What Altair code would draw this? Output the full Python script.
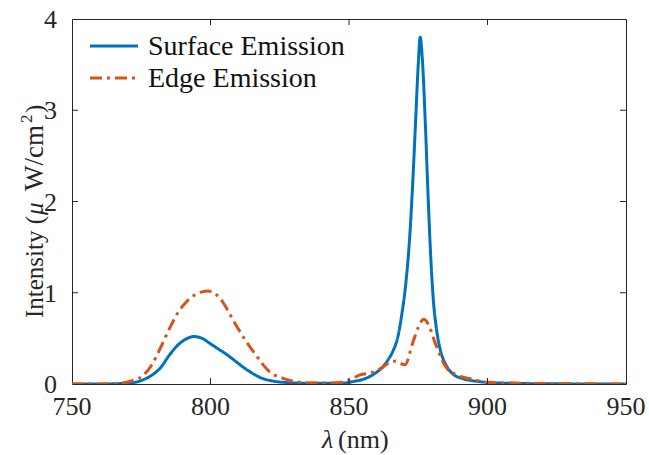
import altair as alt
import pandas as pd

# Surface emission spectrum (wavelength in nm, intensity in uW/cm^2)
surface_nm = [750, 760, 768, 773, 776, 779, 782, 785, 788, 791, 794, 797, 800, 803,
              806, 809, 812, 815, 818, 822, 828, 835, 842, 848, 852, 855, 858, 860,
              862, 864, 866, 867.5, 869, 870.5, 872, 873, 874, 875, 875.7, 876.5,
              877.5, 878.5, 879.5, 880.5, 881.5, 883, 885, 887.5, 891, 896, 905,
              920, 950]
surface_val = [0, 0, 0.005, 0.02, 0.05, 0.10, 0.18, 0.31, 0.42, 0.49, 0.52, 0.50,
               0.44, 0.38, 0.32, 0.25, 0.18, 0.12, 0.07, 0.035, 0.015, 0.008, 0.007,
               0.01, 0.03, 0.05, 0.09, 0.13, 0.18, 0.26, 0.37, 0.5, 0.75, 1.1, 1.65,
               2.2, 2.85, 3.5, 3.8, 3.55, 2.9, 2.1, 1.4, 0.9, 0.62, 0.37, 0.21, 0.11,
               0.06, 0.03, 0.01, 0.003, 0]

# Edge emission spectrum
edge_nm = [750, 760, 768, 772, 775.6, 779, 782, 785.4, 788, 791, 794, 797, 799,
           801, 803.4, 806, 808, 810.5, 813, 816.8, 819, 821.5, 826, 832, 838, 844,
           849, 854, 858.7, 862, 864.8, 866.6, 870.2, 873, 875, 877, 879, 880.5,
           882, 883.5, 885.4, 889, 894.8, 899.8, 910, 950]
edge_val = [0, 0, 0.01, 0.04, 0.09, 0.22, 0.40, 0.62, 0.77, 0.89, 0.97, 1.01, 1.02,
            1.00, 0.94, 0.82, 0.71, 0.58, 0.46, 0.30, 0.21, 0.13, 0.065, 0.02, 0.01,
            0.01, 0.03, 0.10, 0.13, 0.18, 0.24, 0.25, 0.21, 0.45, 0.62, 0.71, 0.63,
            0.50, 0.38, 0.27, 0.17, 0.10, 0.05, 0.02, 0.01, 0]

series_names = ["Surface Emission", "Edge Emission"]
series_colors = ["#0072BD", "#D95319"]
series_dash = [[1, 0], [12, 5, 3, 5]]
x_ticks = [750, 800, 850, 900, 950]
y_ticks = [0, 1, 2, 3, 4]

df = pd.concat([
    pd.DataFrame({"nm": surface_nm, "val": surface_val, "series": series_names[0]}),
    pd.DataFrame({"nm": edge_nm, "val": edge_val, "series": series_names[1]}),
])

FONT = "Times New Roman, Liberation Serif, Tinos, serif"
TXT = "#262626"
W, H = 554, 365
TICK_FS = 26

x_scale = alt.Scale(domain=[750, 950], nice=False)
y_scale = alt.Scale(domain=[0, 4], nice=False)
color_scale = alt.Scale(domain=series_names, range=series_colors)
dash_scale = alt.Scale(domain=series_names, range=series_dash)

lines = alt.Chart(df).mark_line(strokeWidth=3, interpolate="monotone", clip=True).encode(
    x=alt.X("nm:Q", scale=x_scale, axis=None),
    y=alt.Y("val:Q", scale=y_scale, axis=None),
    color=alt.Color("series:N", scale=color_scale, legend=None),
    strokeDash=alt.StrokeDash("series:N", scale=dash_scale, legend=None),
    order=alt.Order("nm:Q"),
)

# Tick labels
xt_all = pd.DataFrame({"nm": x_ticks})
yt_all = pd.DataFrame({"val": y_ticks})
x_labels = alt.Chart(xt_all).mark_text(
    font=FONT, fontSize=TICK_FS, color=TXT, align="center", baseline="alphabetic"
).encode(x=alt.X("nm:Q", scale=x_scale, axis=None), y=alt.value(H + 31),
         text=alt.Text("nm:Q", format="d"))
y_labels = alt.Chart(yt_all).mark_text(
    font=FONT, fontSize=TICK_FS, color=TXT, align="right", baseline="middle", dy=1
).encode(y=alt.Y("val:Q", scale=y_scale, axis=None), x=alt.value(-15),
         text=alt.Text("val:Q", format="d"))

# Inward tick marks on all four sides
xt = pd.DataFrame({"nm": x_ticks[1:-1]})
yt = pd.DataFrame({"val": y_ticks[1:-1]})
xb = alt.Chart(xt).mark_rule(color=TXT, strokeWidth=1).encode(
    x=alt.X("nm:Q", scale=x_scale, axis=None), y=alt.value(H), y2=alt.value(H - 6))
xtop = alt.Chart(xt).mark_rule(color=TXT, strokeWidth=1).encode(
    x=alt.X("nm:Q", scale=x_scale, axis=None), y=alt.value(0), y2=alt.value(6))
yl = alt.Chart(yt).mark_rule(color=TXT, strokeWidth=1).encode(
    y=alt.Y("val:Q", scale=y_scale, axis=None), x=alt.value(0), x2=alt.value(6))
yr = alt.Chart(yt).mark_rule(color=TXT, strokeWidth=1).encode(
    y=alt.Y("val:Q", scale=y_scale, axis=None), x=alt.value(W), x2=alt.value(W - 6))


def text_piece(s, x, y, size, italic=False, angle=0):
    """One run of axis-title text; runs are combined to mix italic and superscript."""
    kw = dict(font=FONT, fontSize=size, color=TXT, align="left",
              baseline="alphabetic", text=s)
    if italic:
        kw["fontStyle"] = "italic"
    if angle:
        kw["angle"] = angle
    return alt.Chart(pd.DataFrame({"k": [0]})).mark_text(**kw).encode(
        x=alt.value(x), y=alt.value(y))


# x-axis title: italic lambda followed by the unit
x_title = [
    text_piece("λ", 250, H + 64, 26, italic=True),
    text_piece("(nm)", 266, H + 64, 26),
]
# y-axis title, rotated, read bottom to top
YB = -29
y_title = [
    text_piece("Intensity (", YB, 299, 25, angle=270),
    text_piece("μ", YB, 196, 25, italic=True, angle=270),
    text_piece("W/cm", YB, 172, 27, angle=270),
    text_piece("2", YB - 11, 104, 17, angle=270),
    text_piece(")", YB, 94, 25, angle=270),
]

# Legend drawn in the upper-left corner of the plot, one row per series
legend_layers = []
for i, name in enumerate(series_names):
    row_y = 27 + 32 * i
    row = pd.DataFrame({"series": [name]})
    legend_layers.append(alt.Chart(row).mark_rule(
        strokeWidth=3, color=series_colors[i], strokeDash=series_dash[i]
    ).encode(x=alt.value(18), x2=alt.value(66), y=alt.value(row_y)))
    legend_layers.append(alt.Chart(row).mark_text(
        align="left", baseline="middle", font=FONT, fontSize=28, color="#111"
    ).encode(x=alt.value(76), y=alt.value(row_y + 1), text="series:N"))

chart = alt.layer(
    lines, xb, xtop, yl, yr, x_labels, y_labels, *x_title, *y_title, *legend_layers
).properties(
    width=W, height=H,
    background="white",
    autosize=alt.AutoSizeParams(type="none"),
    padding={"left": 72, "top": 19, "right": 23, "bottom": 71},
).configure_view(
    stroke=TXT, strokeWidth=1
)

chart.save("out.html", embed_options={"renderer": "svg", "actions": False})
